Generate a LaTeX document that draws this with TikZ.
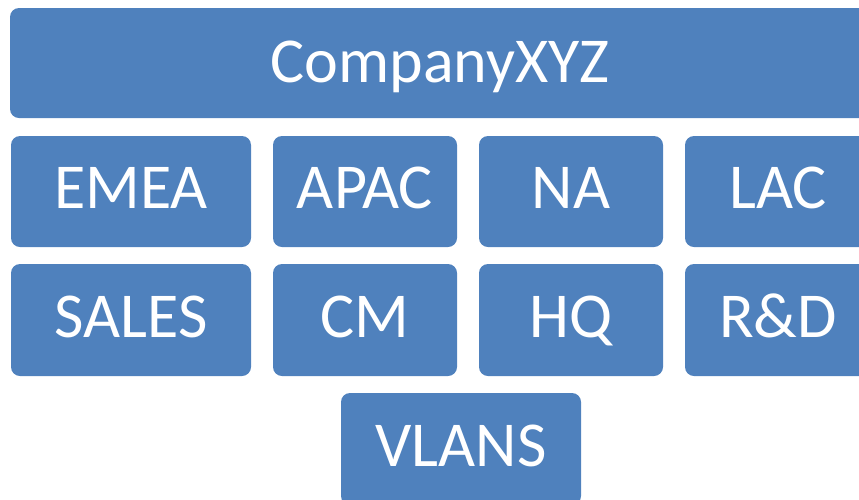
\documentclass[tikz,border=0pt]{standalone}
\usepackage{fontspec}
\setmainfont{Carlito}
\definecolor{boxblue}{HTML}{4F81BD}
\tikzset{
  unitbox/.style={fill=boxblue, draw=none, rounded corners=9pt, inner sep=0pt,
    text=white, font=\fontsize{64}{76}\selectfont,
    text height=41pt, text depth=7pt},
}
% place a box by its corners (x1,y1) (x2,y2), y growing downwards
\newcommand{\unit}[6][]{%
  \node[unitbox, #1, minimum width=#4pt-#2pt, minimum height=#5pt-#3pt]
    (#6) at ({(#2+#4)/2}, {(#3+#5)/2}) {\csname lbl#6\endcsname};}
\begin{document}
\begin{tikzpicture}[x=1pt, y=-1pt]
  \useasboundingbox (0,0) rectangle (859,499);
  \clip (0,0) rectangle (859,499);
  \def\lbltop{CompanyXYZ}
  \def\lblemea{EMEA}\def\lblapac{APAC}\def\lblna{NA}\def\lbllac{LAC}
  \def\lblsales{SALES}\def\lblcm{CM}\def\lblhq{HQ}\def\lblrd{R\&D}
  \def\lblvlans{VLANS}
  \unit[text depth=2pt]{10}{8}{870}{118}{top}
  \unit{11}{136}{251}{247}{emea}
  \unit{273}{136}{457}{247}{apac}
  \unit{479}{136}{663}{247}{na}
  \unit{685}{136}{871}{247}{lac}
  \unit{11}{264}{251}{376}{sales}
  \unit{273}{264}{457}{376}{cm}
  \unit{479}{264}{663}{376}{hq}
  \unit{685}{264}{871}{376}{rd}
  \unit{341}{393}{581}{505}{vlans}
\end{tikzpicture}
\end{document}
